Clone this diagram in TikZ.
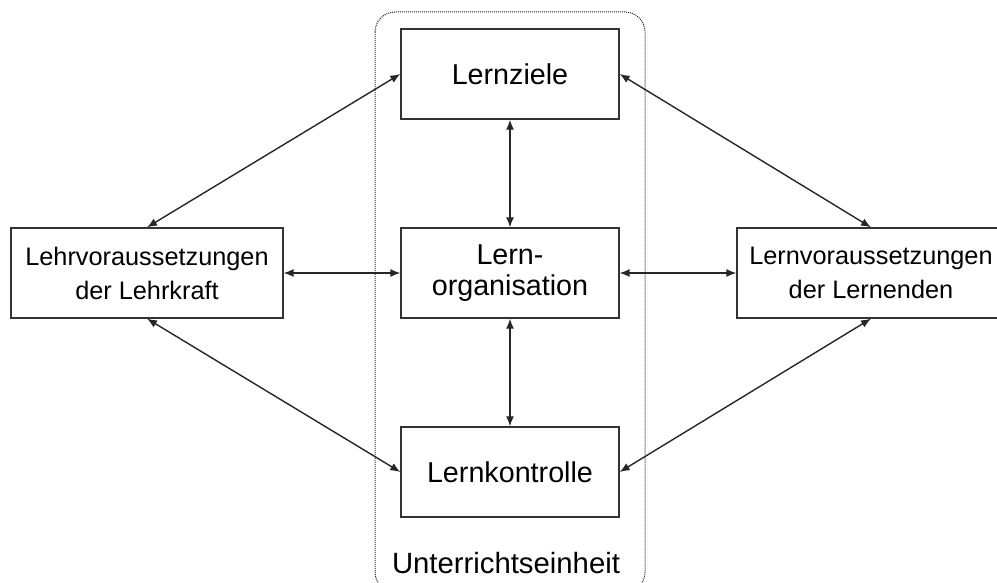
\documentclass[tikz,border=0pt]{standalone}
\usepackage{fontspec}
\setmainfont{Liberation Sans}
\usetikzlibrary{arrows.meta}
\begin{document}
\begin{tikzpicture}[x=1pt,y=-1pt,
  box/.style={draw=black!80, line width=1.3pt, rectangle, inner sep=0pt, align=center},
  mainbox/.style={box, minimum width=218pt, minimum height=90pt, font=\fontsize{28.7}{31}\selectfont},
  sidebox/.style={box, minimum height=90pt, font=\fontsize{25.3}{34}\selectfont},
  link/.style={line width=1.4pt, black!85, {Latex[length=10pt,width=8pt]}-{Latex[length=10pt,width=8pt]}},
  frame/.style={draw=black!85, line width=1pt, dash pattern=on 1pt off 1pt, rounded corners=20pt}
]
\useasboundingbox (0,0) rectangle (997,583);
\draw[frame] (375,12) rectangle (645,592);
\node[mainbox] (Z) at (510,74) {Lernziele};
\node[mainbox] (O) at (510,273) {Lern-\\organisation};
\node[mainbox] (K) at (510,472) {Lernkontrolle};
\node[sidebox, minimum width=272pt] (L) at (147,273) {Lehrvoraussetzungen\\der Lehrkraft};
\node[sidebox, minimum width=268pt] (R) at (871,273) {Lernvoraussetzungen\\der Lernenden};
\node[font=\fontsize{29.3}{31}\selectfont, anchor=base, inner sep=0pt] (U) at (506,573) {Unterrichtseinheit};
\draw[link] (L.north) -- (Z.west);
\draw[link] (R.north) -- (Z.east);
\draw[link] (L.south) -- (K.west);
\draw[link] (R.south) -- (K.east);
\draw[link] (L.east) -- (O.west);
\draw[link] (O.east) -- (R.west);
\draw[link] (Z.south) -- (O.north);
\draw[link] (O.south) -- (K.north);
\end{tikzpicture}
\end{document}
